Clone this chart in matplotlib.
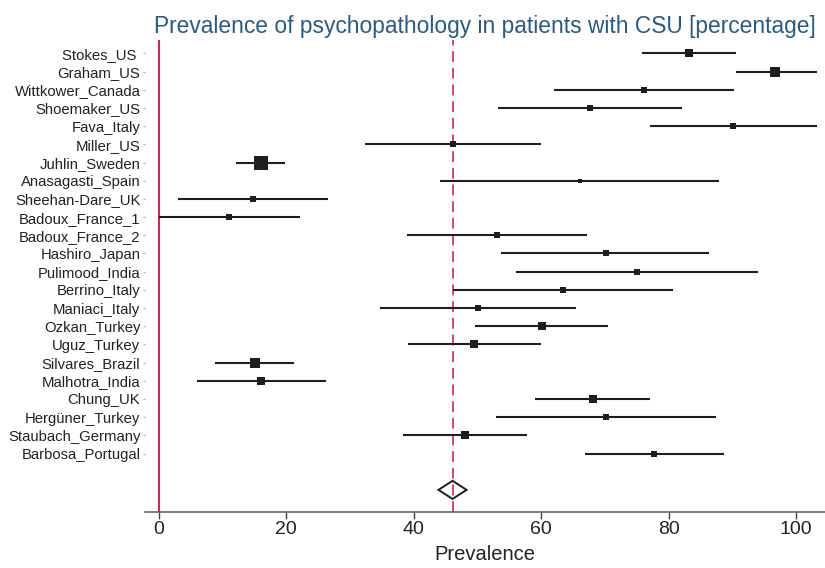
import matplotlib
matplotlib.use("Agg")
import matplotlib.pyplot as plt
import numpy as np

plt.rcParams['font.family'] = ['Liberation Sans', 'DejaVu Sans']

studies = ["Stokes_US ", "Graham_US", "Wittkower_Canada", "Shoemaker_US", "Fava_Italy",
           "Miller_US", "Juhlin_Sweden", "Anasagasti_Spain", "Sheehan-Dare_UK",
           "Badoux_France_1", "Badoux_France_2", "Hashiro_Japan", "Pulimood_India",
           "Berrino_Italy", "Maniaci_Italy", "Ozkan_Turkey", "Uguz_Turkey",
           "Silvares_Brazil", "Malhotra_India", "Chung_UK", "Hergüner_Turkey",
           "Staubach_Germany", "Barbosa_Portugal"]
estimate = [83.1, 96.7, 76.1, 67.6, 90.1, 46.1, 16.1, 66.1, 14.8, 11.1, 53.0, 70.1,
            75.1, 63.4, 50.1, 60.1, 49.5, 15.1, 16.1, 68.1, 70.1, 48.0, 77.7]
ci_low = [75.8, 90.5, 62.0, 53.2, 77.0, 32.3, 12.2, 44.2, 3.0, 0.0, 38.9, 53.7,
          56.1, 46.2, 34.7, 49.7, 39.1, 8.9, 6.0, 59.0, 52.9, 38.3, 66.8]
ci_high = [90.5, 103.2, 90.2, 82.1, 103.2, 59.9, 19.9, 87.9, 26.6, 22.2, 67.2, 86.3,
           94.0, 80.6, 65.5, 70.5, 59.9, 21.3, 26.2, 77.1, 87.4, 57.8, 88.7]
weights = [6.7, 7.1, 2.3, 2.3, 3.0, 3.0, 17.9, 1.3, 3.0, 3.3, 2.7, 2.1, 2.1, 2.1,
           2.7, 4.4, 4.9, 8.8, 4.4, 5.3, 2.3, 4.9, 3.3]
pooled_est = 46.1
pooled_low = 43.9
pooled_high = 48.3
x_ticks = [0, 20, 40, 60, 80, 100]

title_color = '#2e5a7e'
red = '#c9285a'
ink = '#1e1e1e'

fig = plt.figure(figsize=(8.25, 5.68), dpi=100)
ax = fig.add_axes([145/825, 1 - 511.7/568, 680/825, (511.7 - 40)/568])

n = len(studies)
ypos = np.arange(n)

ax.axvline(0, color=red, lw=1.5, zorder=1)
ax.axvline(pooled_est, color=red, lw=1.2, ls=(0, (6.5, 3.5)), zorder=1)

for i in range(n):
    ax.plot([ci_low[i], ci_high[i]], [ypos[i], ypos[i]], color=ink, lw=1.5,
            solid_capstyle='butt', zorder=2)
    side_px = 3.47 * np.sqrt(weights[i])
    ax.plot([estimate[i]], [ypos[i]], marker='s', ms=side_px * 72 / 100,
            color=ink, mec=ink, mew=0, zorder=3)

yd = n + 1
dh = 0.5
ax.fill([pooled_low, pooled_est, pooled_high, pooled_est],
        [yd, yd - dh, yd, yd + dh], facecolor='none', edgecolor=ink, lw=1.4, zorder=3)

ax.set_xlim(-2.12, 104.5)
ax.set_ylim(25.2, -0.74)
ax.set_yticks(ypos)
ax.set_yticklabels(studies, fontsize=10.7, color='#222222')
ax.set_xticks(x_ticks)
ax.set_xticklabels([str(t) for t in x_ticks], fontsize=14, color='#222222')
ax.tick_params(axis='y', length=1.5, width=0.8, color='#aaaaaa', pad=1.8)
ax.tick_params(axis='x', length=5, width=1.0, color='#444444', pad=2)

for s in ['left', 'right', 'top']:
    ax.spines[s].set_visible(False)
ax.spines['bottom'].set_color('#5a5a5a')
ax.spines['bottom'].set_linewidth(1.1)

ax.set_xlabel("Prevalence", fontsize=14.5, color='#222222', labelpad=4.5)
ax.set_title("Prevalence of psychopathology in patients with CSU [percentage]",
             fontsize=16.35, color=title_color, pad=5)

fig.savefig("out.png", dpi=100)
